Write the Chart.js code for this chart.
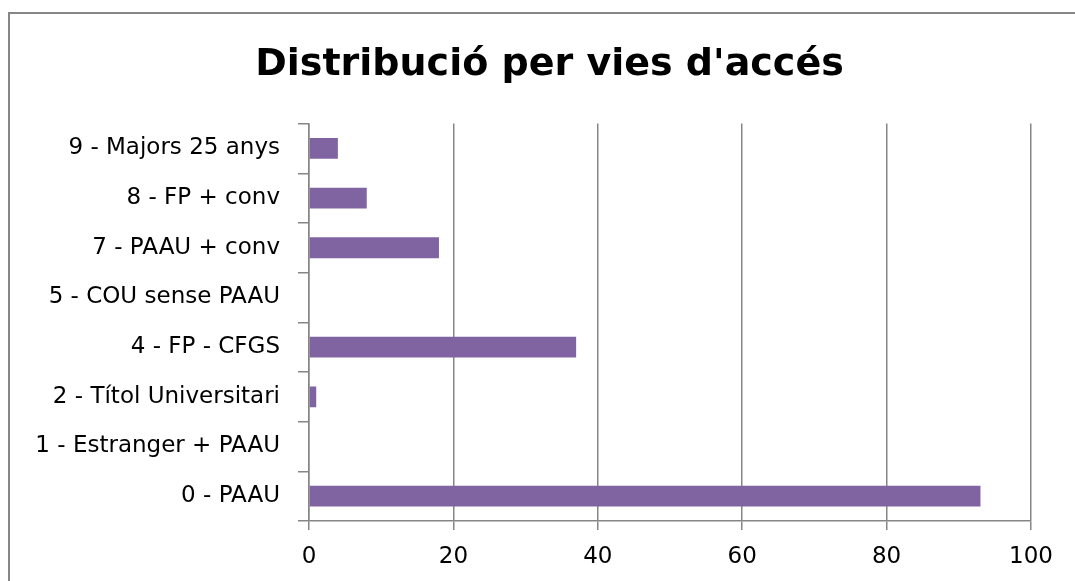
<!DOCTYPE html>
<html>
<head>
<meta charset="utf-8">
<script src="https://cdn.jsdelivr.net/npm/chart.js@4"></script>
<style>
  html, body { margin: 0; padding: 0; background: #fff; overflow: hidden; }
  #frame { position: absolute; left: 8px; top: 12px; width: 1200px; height: 700px; border: 2px solid #868686; }
  #wrap { position: absolute; left: 0; top: 0; width: 1075px; height: 581px; }
</style>
</head>
<body>
<div id="frame"></div>
<div id="wrap"><canvas id="chart"></canvas></div>
<script>
// values, top to bottom
const categories = [
  '9 - Majors 25 anys',
  '8 - FP + conv',
  '7 - PAAU + conv',
  '5 - COU sense PAAU',
  '4 - FP - CFGS',
  '2 - Títol Universitari',
  '1 - Estranger + PAAU',
  '0 - PAAU'
];
const values = [4, 8, 18, 0, 37, 1, 0, 93];
const xTicks = [0, 20, 40, 60, 80, 100];

const gridColor = '#868686';
const fontFamily = '"DejaVu Sans", sans-serif';

// the title is centred on the whole frame, not on the plot
const shiftTitle = {
  id: 'shiftTitle',
  afterLayout(chart) {
    if (chart.titleBlock) {
      chart.titleBlock.left += 29;
      chart.titleBlock.right += 29;
    }
  }
};

const ctx = document.getElementById('chart').getContext('2d');

new Chart(ctx, {
  type: 'bar',
  data: {
    labels: categories,
    datasets: [{
      data: values,
      backgroundColor: '#8064A2',
      borderWidth: 0,
      categoryPercentage: 1,
      barPercentage: 0.42
    }]
  },
  options: {
    indexAxis: 'y',
    responsive: true,
    maintainAspectRatio: false,
    animation: false,
    layout: { padding: { left: 10, right: 44, top: 0, bottom: 0 } },
    plugins: {
      legend: { display: false },
      tooltip: { enabled: false },
      title: {
        display: true,
        text: "Distribució per vies d'accés",
        color: '#000',
        font: { family: fontFamily, size: 38, weight: 'bold', lineHeight: 1.2 },
        padding: { top: 42, bottom: 36 }
      }
    },
    scales: {
      x: {
        min: xTicks[0],
        max: xTicks[xTicks.length - 1],
        ticks: {
          stepSize: xTicks[1] - xTicks[0],
          color: '#000',
          font: { family: fontFamily, size: 23 },
          padding: 13
        },
        grid: { color: gridColor, lineWidth: 1.5, tickLength: 9 },
        border: { color: gridColor, width: 1.5 },
        afterFit: (scale) => { scale.height = 60; }
      },
      y: {
        ticks: {
          color: '#000',
          font: { family: fontFamily, size: 23 },
          padding: 18
        },
        grid: { color: gridColor, lineWidth: 1.5, drawOnChartArea: false, tickLength: 11 },
        border: { color: gridColor, width: 1.5 },
        afterFit: (scale) => { scale.width = 299; }
      }
    }
  },
  plugins: [shiftTitle]
});
</script>
</body>
</html>
